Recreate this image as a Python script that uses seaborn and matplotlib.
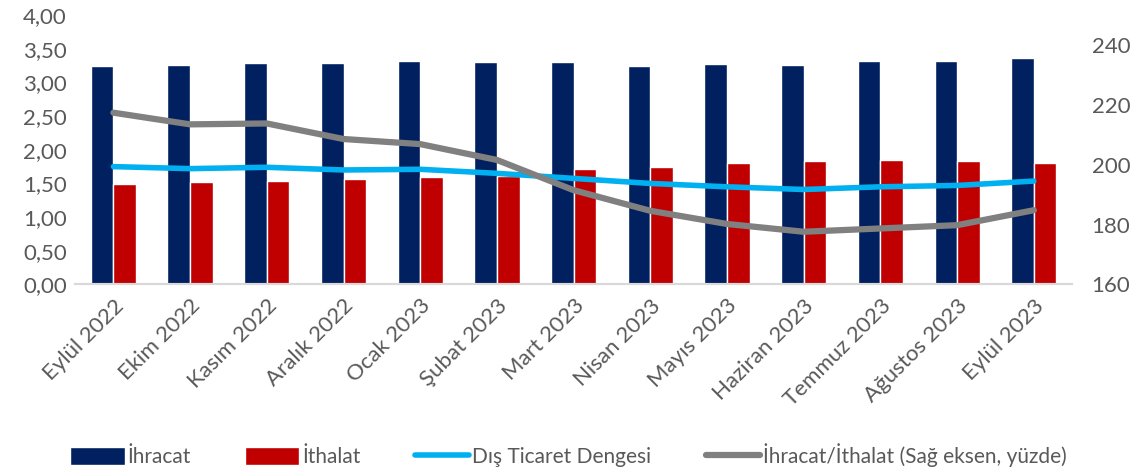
import numpy as np
import pandas as pd
import matplotlib
matplotlib.use("Agg")
import matplotlib.pyplot as plt
import seaborn as sns
from matplotlib.ticker import FuncFormatter, MultipleLocator
from matplotlib.patches import Patch
from matplotlib.lines import Line2D

months = ["Eylül 2022", "Ekim 2022", "Kasım 2022", "Aralık 2022", "Ocak 2023",
          "Şubat 2023", "Mart 2023", "Nisan 2023", "Mayıs 2023", "Haziran 2023",
          "Temmuz 2023", "Ağustos 2023", "Eylül 2023"]
ihracat = [3.25, 3.26, 3.29, 3.29, 3.32, 3.30, 3.31, 3.24, 3.27, 3.26, 3.32, 3.32, 3.36]
ithalat = [1.49, 1.52, 1.53, 1.57, 1.60, 1.61, 1.71, 1.74, 1.80, 1.83, 1.85, 1.84, 1.81]
denge = [1.75, 1.72, 1.74, 1.70, 1.71, 1.65, 1.575, 1.50, 1.45, 1.41, 1.45, 1.47, 1.535]
oran = [217.4, 213.5, 213.8, 208.6, 206.9, 201.6, 191.5, 184.6, 180.2, 177.6, 178.7, 179.8, 184.8]

series_names = ["İhracat", "İthalat", "Dış Ticaret Dengesi", "İhracat/İthalat (Sağ eksen, yüzde)"]
colors = ["#002060", "#C00000", "#00B0F0", "#808080"]

sns.set_style("white")
plt.rcParams["font.family"] = ["Lato", "DejaVu Sans"]

df = pd.DataFrame({
    "Ay": months * 2,
    "Değer": ihracat + ithalat,
    "Seri": [series_names[0]] * len(months) + [series_names[1]] * len(months),
})

fig = plt.figure(figsize=(11.37, 4.74), dpi=100)
ax = fig.add_axes([0.066, 0.400, 0.877, 0.568])

sns.barplot(data=df, x="Ay", y="Değer", hue="Seri", order=months,
            hue_order=series_names[:2], palette=colors[:2], width=0.59, gap=0,
            saturation=1, legend=False, ax=ax)

pos = np.arange(len(months))
sns.lineplot(x=pos, y=denge, color=colors[2], linewidth=4, ax=ax, legend=False)

ax.set_xlim(-0.5, len(months) - 0.5)
ax.set_ylim(0, 4)
ax.yaxis.set_major_locator(MultipleLocator(0.5))
ax.yaxis.set_major_formatter(FuncFormatter(lambda v, p: f"{v:.2f}".replace(".", ",")))
ax.set_xlabel("")
ax.set_ylabel("")

ax2 = ax.twinx()
sns.lineplot(x=pos, y=oran, color=colors[3], linewidth=4.5, ax=ax2, legend=False)
ax2.set_ylim(160, 250)
ax2.set_yticks([160, 180, 200, 220, 240])
ax2.set_ylabel("")
ax2.set_xlim(-0.5, len(months) - 0.5)

for a in (ax, ax2):
    for s in ["top", "left", "right"]:
        a.spines[s].set_visible(False)
    a.spines["bottom"].set_color("#D9D9D9")
    a.spines["bottom"].set_linewidth(1.5)
    a.tick_params(axis="both", length=0, labelsize=16, labelcolor="#595959")

ax.tick_params(axis="y", pad=6)
ax2.tick_params(axis="y", pad=14)
ax.set_xticks(pos)
ax.set_xticklabels(months, rotation=45, ha="right", rotation_mode="anchor", fontsize=16)
ax.tick_params(axis="x", pad=8)

handles = [Patch(facecolor=colors[0]), Patch(facecolor=colors[1]),
           Line2D([0], [0], color=colors[2], linewidth=4),
           Line2D([0], [0], color=colors[3], linewidth=4.5)]
fig.legend(handles, series_names, loc="lower center", bbox_to_anchor=(0.5, -0.025),
           ncol=4, frameon=False, fontsize=15, labelcolor="#595959",
           handlelength=2.6, handleheight=1.0, columnspacing=2.6, handletextpad=0.15)

fig.savefig("out.png", dpi=100)
